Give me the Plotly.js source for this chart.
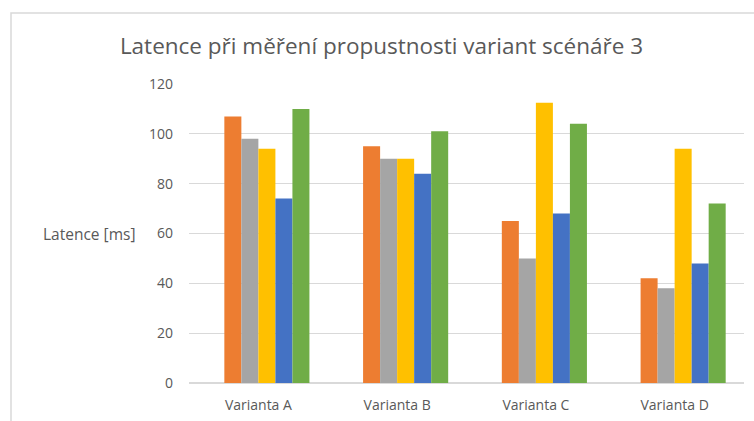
<!DOCTYPE html>
<html>
<head>
<meta charset="utf-8">
<script src="https://cdn.plot.ly/plotly-3.0.1.min.js"></script>
<style>html,body{margin:0;padding:0;background:#fff;}#chart{width:754px;height:421px;}</style>
</head>
<body>
<div id="chart"></div>
<script>
const categories = ["Varianta A", "Varianta B", "Varianta C", "Varianta D"];
const series1 = [107, 95, 65, 42];
const series2 = [98, 90, 50, 38];
const series3 = [94, 90, 112.5, 94];
const series4 = [74, 84, 68, 48];
const series5 = [110, 101, 104, 72];
const seriesValues = [series1, series2, series3, series4, series5];
const seriesColors = ["#ED7D31", "#A5A5A5", "#FFC000", "#4472C4", "#70AD47"];
const yTicks = [0, 20, 40, 60, 80, 100, 120];

const FONT = "Open Sans, sans-serif";
const TXT = "#595959";
const GRID = "#d9d9d9";

// Excel layout: 6 slots per category (first empty), gap width ~219%
const slots = 6;
const barW = (1 - 0.264) / slots;
const traces = seriesValues.map((vals, i) => ({
  type: "bar",
  x: categories,
  y: vals,
  width: barW,
  offset: -(slots / 2) * barW + (i + 1) * barW,
  marker: {color: seriesColors[i], line: {width: 0}},
  showlegend: false,
  hoverinfo: "skip"
}));

const L = 189, R = 744, T = 84, B = 383;
const pw = R - L, ph = B - T;
const layout = {
  width: 754, height: 421,
  margin: {l: L, r: 754 - R, t: T, b: 421 - B, pad: 0},
  paper_bgcolor: "#fff", plot_bgcolor: "#fff",
  barmode: "overlay",
  title: {
    text: "Latence při měření propustnosti variant scénáře 3",
    font: {family: FONT, size: 22.5, color: TXT},
    xref: "container", x: 381.5 / 754, xanchor: "center",
    yref: "container", y: 1 - 46 / 421, yanchor: "middle"
  },
  xaxis: {
    type: "category",
    showgrid: false, zeroline: false, showline: false,
    ticks: "", tickfont: {family: FONT, size: 14, color: TXT},
    ticklabelstandoff: 12
  },
  yaxis: {
    range: [0, 120], tickvals: yTicks,
    showgrid: true, gridcolor: GRID, gridwidth: 1.3,
    zeroline: true, zerolinecolor: GRID, zerolinewidth: 1.3,
    showline: false, ticks: "",
    tickfont: {family: FONT, size: 14, color: TXT},
    ticklabelstandoff: 15
  },
  annotations: [{
    text: "Latence [ms]", xref: "paper", yref: "y",
    x: (137 - L) / pw, y: 60, xanchor: "right", yanchor: "middle",
    showarrow: false, font: {family: FONT, size: 15.5, color: TXT}
  }],
  shapes: [{
    type: "rect", xref: "paper", yref: "paper",
    x0: (11 - L) / pw, x1: (800 - L) / pw,
    y0: (B - 13) / ph, y1: (B - 480) / ph,
    line: {color: GRID, width: 1.5}, fillcolor: "rgba(0,0,0,0)", layer: "below"
  }]
};

Plotly.newPlot("chart", traces, layout, {staticPlot: true, displayModeBar: false});
</script>
</body>
</html>
